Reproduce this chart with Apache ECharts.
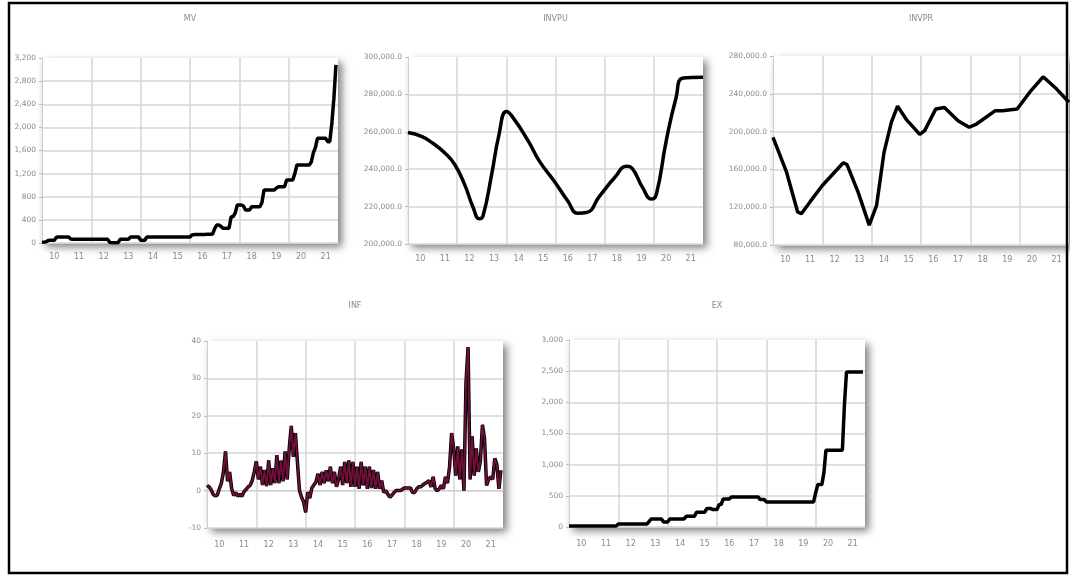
<!DOCTYPE html>
<html><head><meta charset="utf-8">
<script src="https://cdn.jsdelivr.net/npm/echarts@6/dist/echarts.min.js"></script>
<style>html,body{margin:0;padding:0;background:#fff}#c{width:1070px;height:576px}</style>
</head><body><div id="c"></div>
<script>
// ---- data ----
const YEAR_LABELS = ['10','11','12','13','14','15','16','17','18','19','20','21'];
const START_YEAR = 2010;

// MV, monthly 2010M01..2021M12
const MV = [
  10,15,20,45,46,46,46,100,103,103,103,103,
  103,103,70,63,63,63,63,63,63,63,63,63,
  63,63,63,63,63,63,63,63,63,10,6,6,
  6,6,63,63,63,63,63,103,103,103,103,103,
  46,46,46,103,103,103,103,103,103,103,103,103,
  103,103,103,103,103,103,103,103,103,103,103,103,
  103,140,145,145,145,145,145,145,150,150,150,155,
  250,311,311,290,254,254,254,254,455,455,520,657,
  657,657,640,571,571,571,628,628,628,628,628,700,
  917,917,917,917,917,917,950,974,974,974,974,1090,
  1090,1090,1090,1200,1349,1349,1349,1349,1349,1349,1349,1400,
  1557,1650,1811,1811,1811,1811,1811,1753,1753,2070,2500,3080
];

// INVPU, read points (year, value)
const INVPU_X = [2010.0,2010.55,2011.0,2011.5,2011.9,2012.3,2012.65,2012.9,2013.05,2013.4,2013.7,2014.0,2014.25,2014.9,2015.35,2015.95,2016.5,2016.9,2017.25,2017.8,2018.4,2018.9,2019.1,2019.55,2019.9,2020.1,2020.5,2020.9,2021.2,2022.0];
const INVPU_Y = [259600,257500,254000,248700,242500,231900,219500,213500,215000,237000,258400,270800,268000,254900,244200,233600,223000,216500,216800,225700,235400,241600,240700,230000,224000,226500,254900,277900,288800,289200];

// INVPR, read points (year, value)
const INVPR_X = [2010.0,2010.55,2011.0,2011.15,2011.5,2012.0,2012.85,2013.0,2013.45,2013.9,2014.2,2014.5,2014.8,2015.05,2015.4,2015.95,2016.15,2016.6,2016.95,2017.5,2017.95,2018.25,2019.0,2019.3,2019.9,2020.4,2020.95,2021.5,2022.0];
const INVPR_Y = [194000,157000,115000,113000,125600,143000,167000,165000,136000,101000,122000,178000,210000,227000,213000,197000,201000,224000,225600,211600,204600,208000,222000,222000,223900,241400,258000,245000,231000];

// INF, monthly 2010M01..2021M12
const INF = [
  1.4,1.0,0.2,-1.0,-1.4,-1.2,0.5,2.0,5.0,10.5,2.5,5.0,
  0.5,-1.3,-0.5,-1.5,-1.0,-1.5,-0.3,0.3,1.0,1.4,2.7,5.0,
  7.8,3.0,6.4,1.5,5.5,1.2,8.1,1.5,6.0,2.0,9.5,2.0,
  8.0,2.5,10.5,3.0,11.3,17.3,9.0,15.4,7.5,0.0,-1.8,-3.0,
  -5.8,-0.4,-2.0,0.7,1.5,2.3,4.5,1.5,5.0,2.0,5.4,2.5,
  6.4,2.0,5.0,1.0,3.0,6.4,1.5,7.7,2.0,8.1,1.0,7.7,
  1.0,6.4,0.5,7.7,1.4,6.4,0.5,6.4,0.7,5.5,0.5,5.0,
  0.5,2.7,-0.5,0.0,-1.0,-1.8,-1.2,-0.5,0.0,0.0,0.0,0.3,
  0.7,0.7,0.7,0.7,-0.5,-0.5,0.5,1.0,1.0,1.5,1.9,2.2,
  2.7,1.0,3.7,0.5,0.0,0.5,1.4,0.5,3.7,2.0,6.4,15.4,
  11.3,4.0,11.8,3.0,11.0,0.0,28.9,38.4,3.0,14.5,4.0,11.3,
  5.0,8.0,17.6,14.0,1.4,3.0,3.7,3.0,8.6,7.0,0.5,5.4
];

// EX, monthly 2010M01..2021M12
const EX = [
  15,15,15,15,15,15,15,15,15,15,15,15,
  15,15,15,15,15,15,15,15,15,15,15,15,
  50,50,50,50,50,50,50,50,50,50,50,50,
  50,50,50,90,130,130,130,130,130,130,80,80,
  80,130,130,130,130,130,130,130,130,171,171,171,
  171,171,236,236,236,236,236,295,295,295,280,280,
  280,360,360,450,450,450,450,482,482,482,482,482,
  482,482,482,482,482,482,482,482,482,440,440,440,
  402,402,402,402,402,402,402,402,402,402,402,402,
  402,402,402,402,402,402,402,402,402,402,402,402,
  546,680,680,680,868,1232,1232,1232,1232,1232,1232,1232,
  1232,1232,1966,2486,2486,2486,2486,2486,2486,2486,2486,2486
];

// ---- build ----
const monthly = arr => arr.map((v, m) => [START_YEAR + m / 12, v]);
const paired = (xs, ys) => xs.map((x, i) => [x, ys[i]]);

const TXT = '#8a8a8a';
const FONT = 'DejaVu Sans';
const GRID_LINE = '#d6d6d6';

const panels = [
  {title:'MV', left:42, top:58, width:296, height:185, min:0, max:3200, interval:400, dec:0, lm:10, ty:15},
  {title:'INVPU', left:408, top:57, width:295, height:187, min:200000, max:300000, interval:20000, dec:1, lm:11, ty:15},
  {title:'INVPR', left:773, top:56, width:296, height:189, min:80000, max:280000, interval:40000, dec:1, lm:11, ty:15},
  {title:'INF', left:207, top:341, width:296, height:187, min:-10, max:40, interval:10, dec:0, lm:13, ty:302},
  {title:'EX', left:569, top:340, width:296, height:187, min:0, max:3000, interval:500, dec:0, lm:13, ty:302}
];

const grid = [], xAxis = [], yAxis = [], series = [], graphic = [];
panels.forEach((p, i) => {
  grid.push({left:p.left, top:p.top, width:p.width, height:p.height, show:true,
    backgroundColor:'#fff', borderWidth:0,
    shadowColor:'rgba(0,0,0,0.5)', shadowBlur:8, shadowOffsetX:4, shadowOffsetY:4});
  xAxis.push({type:'value', gridIndex:i, min:2010, max:2022, interval:2,
    axisLabel:{show:false}, axisTick:{show:false},
    axisLine:{show:true, lineStyle:{color:'#cfcfcf', width:1}},
    splitLine:{show:true, showMinLine:false, showMaxLine:false, lineStyle:{color:GRID_LINE, width:1.5}}});
  xAxis.push({type:'category', gridIndex:i, data:YEAR_LABELS, boundaryGap:true, position:'bottom',
    axisLine:{show:false}, axisTick:{show:false}, splitLine:{show:false},
    axisLabel:{color:TXT, fontFamily:FONT, fontSize:8, margin:p.lm, interval:0}});
  yAxis.push({type:'value', gridIndex:i, min:p.min, max:p.max, interval:p.interval,
    axisLine:{show:true, lineStyle:{color:'#cfcfcf'}},
    axisTick:{show:true, length:3, lineStyle:{color:'#bbb'}},
    splitLine:{show:true, showMaxLine:false, lineStyle:{color:GRID_LINE, width:1.5}},
    axisLabel:{color:TXT, fontFamily:FONT, fontSize:7.5, margin:6,
      formatter: v => v.toLocaleString('en-US', {minimumFractionDigits:p.dec, maximumFractionDigits:p.dec})}});
  graphic.push({type:'text', x:p.left + p.width/2, y:p.ty, z:10,
    style:{text:p.title, fill:TXT, font:'8px "DejaVu Sans"', textAlign:'center'}});
});

const line = (i, data, extra) => Object.assign({
  type:'line', xAxisIndex:2*i, yAxisIndex:i, data, showSymbol:false, symbol:'none',
  lineStyle:{color:'#000', width:3}, clip:true, animation:false
}, extra || {});

series.push(line(0, monthly(MV), {lineStyle:{color:'#000', width:3.5}}));
series.push(line(1, paired(INVPU_X, INVPU_Y), {smooth:0.5, lineStyle:{color:'#000', width:3.5}}));
series.push(line(2, paired(INVPR_X, INVPR_Y), {lineStyle:{color:'#000', width:3.5}}));
series.push(line(3, monthly(INF), {lineStyle:{color:'#000', width:3.5}}));
series.push(line(3, monthly(INF), {lineStyle:{color:'#6e0f3a', width:1.8}}));
series.push(line(4, monthly(EX), {lineStyle:{color:'#000', width:3.5}}));

// outer frame
graphic.push({type:'rect', z:100, shape:{x:9, y:3, width:1058, height:570},
  style:{fill:'none', stroke:'#000', lineWidth:2.5}});

const chart = echarts.init(document.getElementById('c'), null, {renderer:'canvas'});
chart.setOption({backgroundColor:'#fff', animation:false, grid, xAxis, yAxis, series, graphic});
</script>
</body></html>
